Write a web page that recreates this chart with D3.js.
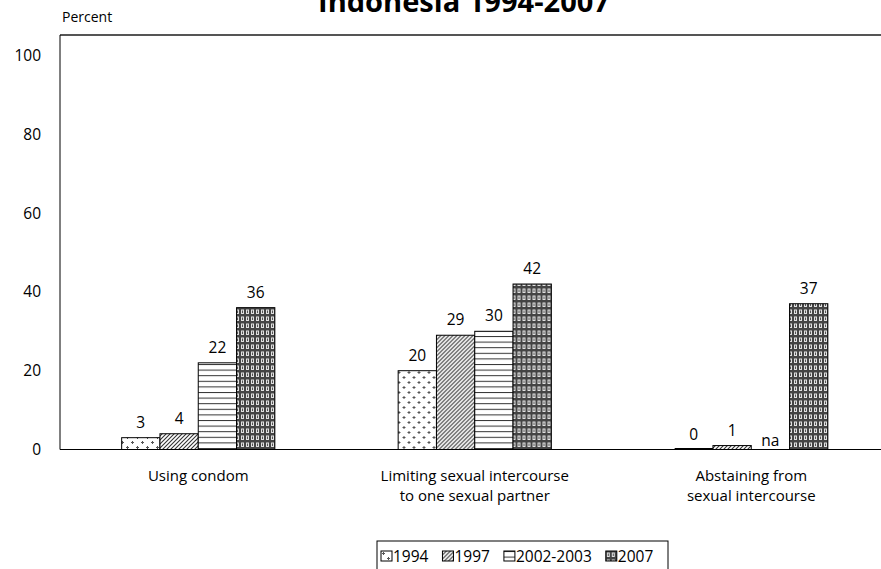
<!DOCTYPE html>
<html>
<head>
<meta charset="utf-8">
<script src="https://cdn.jsdelivr.net/npm/d3@7/dist/d3.min.js"></script>
<style>
  html, body { margin: 0; padding: 0; background: #fff; }
  svg { display: block; font-family: "Open Sans", Lato, sans-serif; }
</style>
</head>
<body>
<svg id="chart" width="881" height="569"></svg>
<script>
// Knowledge of ways to avoid HIV, Indonesia 1994-2007
const categories = [
  ["Using condom"],
  ["Limiting sexual intercourse", "to one sexual partner"],
  ["Abstaining from", "sexual intercourse"]
];
const seriesNames = ["1994", "1997", "2002-2003", "2007"];
const v1994 = [3, 20, 0];
const v1997 = [4, 29, 1];
const v2002 = [22, 30, null];   // null = not available
const v2007 = [36, 42, 37];
const yTicks = [0, 20, 40, 60, 80, 100];
const title = "Indonesia 1994-2007";
const yLabel = "Percent";

const seriesValues = [v1994, v1997, v2002, v2007];
const FS = 15.5;

const svg = d3.select("#chart");
const defs = svg.append("defs");

// ---- fill patterns, one per series ----
// 1994: scattered small crosses
const p0 = defs.append("pattern").attr("id", "pat0").attr("patternUnits", "userSpaceOnUse")
  .attr("width", 10).attr("height", 10);
p0.append("rect").attr("width", 10).attr("height", 10).attr("fill", "#fff");
[[2.5, 2.5], [7.5, 7.5]].forEach(([cx, cy]) => {
  p0.append("path").attr("d", `M${cx-1.5},${cy}h3M${cx},${cy-1.5}v3`)
    .attr("stroke", "#555").attr("stroke-width", 1);
});
// 1997: diagonal hatching
const p1 = defs.append("pattern").attr("id", "pat1").attr("patternUnits", "userSpaceOnUse")
  .attr("width", 4).attr("height", 4);
p1.append("rect").attr("width", 4).attr("height", 4).attr("fill", "#fff");
p1.append("path").attr("d", "M-1,5L5,-1M-1,1L1,-1M3,5L5,3")
  .attr("stroke", "#333").attr("stroke-width", 1.1);
// 2002-2003: horizontal rules
const p2 = defs.append("pattern").attr("id", "pat2").attr("patternUnits", "userSpaceOnUse")
  .attr("width", 8).attr("height", 5.6);
p2.append("rect").attr("width", 8).attr("height", 5.6).attr("fill", "#fff");
p2.append("rect").attr("y", 0).attr("width", 8).attr("height", 1).attr("fill", "#333");
// 2007: dense ring texture
const p3 = defs.append("pattern").attr("id", "pat3").attr("patternUnits", "userSpaceOnUse")
  .attr("width", 5).attr("height", 7);
p3.append("rect").attr("width", 5).attr("height", 7).attr("fill", "#444");
p3.append("rect").attr("x", 1).attr("y", 1.5).attr("width", 3).attr("height", 4.5).attr("fill", "#e0e0e0");
p3.append("rect").attr("x", 2).attr("y", 2.5).attr("width", 1).attr("height", 2.5).attr("fill", "#555");
const fills = ["url(#pat0)", "url(#pat1)", "url(#pat2)", "url(#pat3)"];

// ---- scales ----
const plot = { left: 60, top: 35, right: 889.5, bottom: 449.5 };
const y = d3.scaleLinear().domain([0, 100]).range([plot.bottom, 55.5]);
const x0 = d3.scaleBand().domain(d3.range(categories.length))
  .range([plot.left, plot.right]).padding(0);
const x1 = d3.scaleBand().domain(d3.range(seriesNames.length))
  .range([0, x0.bandwidth()]).paddingInner(0).paddingOuter(1.61);

// ---- title (top runs past the page edge) and axis caption ----
const tt = svg.append("text").attr("x", 464).attr("y", 12).attr("text-anchor", "middle")
  .attr("font-size", 22).attr("font-weight", "bold").attr("fill", "#000").text(title);
const tw = tt.node().getComputedTextLength();
tt.attr("font-size", 22 * 292 / tw);
svg.append("text").attr("x", 62).attr("y", 22).attr("font-size", 14).attr("fill", "#000").text(yLabel);

// ---- plot frame ----
svg.append("line").attr("x1", plot.left).attr("x2", 881).attr("y1", plot.top).attr("y2", plot.top)
  .attr("stroke", "#555").attr("stroke-width", 2);
svg.append("line").attr("x1", plot.left).attr("x2", plot.left).attr("y1", plot.top).attr("y2", plot.bottom)
  .attr("stroke", "#000").attr("stroke-width", 1);

// ---- y axis labels ----
const yAxis = d3.axisLeft(y).tickValues(yTicks).tickSize(0).tickPadding(19);
svg.append("g").attr("transform", `translate(${plot.left},0)`).call(yAxis)
  .call(g => g.select(".domain").remove())
  .call(g => g.selectAll("text").attr("font-size", FS)
    .attr("font-family", "'Open Sans', Lato, sans-serif").attr("fill", "#000"));

// ---- bars ----
const groups = svg.append("g").selectAll("g").data(categories).join("g")
  .attr("transform", (d, i) => `translate(${x0(i)},0)`);

groups.each(function(cat, ci) {
  const g = d3.select(this);
  seriesNames.forEach((s, si) => {
    const v = seriesValues[si][ci];
    const bx = x1(si), bw = x1.bandwidth();
    if (v === null) {
      g.append("text").attr("x", bx + bw / 2).attr("y", plot.bottom - 4)
        .attr("text-anchor", "middle").attr("font-size", FS).attr("fill", "#000").text("na");
      return;
    }
    if (v === 0) {
      g.append("line").attr("x1", bx).attr("x2", bx + bw)
        .attr("y1", y(0) - 0.5).attr("y2", y(0) - 0.5)
        .attr("stroke", "#000").attr("stroke-width", 2);
    } else {
      g.append("rect").attr("x", bx).attr("y", y(v)).attr("width", bw).attr("height", y(0) - y(v))
        .attr("fill", fills[si]).attr("stroke", "#000").attr("stroke-width", 1);
    }
    g.append("text").attr("x", bx + bw / 2).attr("y", y(v) - 10)
      .attr("text-anchor", "middle").attr("font-size", FS).attr("fill", "#000").text(v);
  });
});

// ---- baseline ----
svg.append("line").attr("x1", plot.left).attr("x2", 881).attr("y1", plot.bottom).attr("y2", plot.bottom)
  .attr("stroke", "#000").attr("stroke-width", 1.2);

// ---- category labels (one text per line) ----
groups.each(function(cat) {
  const g = d3.select(this);
  cat.forEach((line, li) => {
    g.append("text").attr("text-anchor", "middle").attr("font-size", 15).attr("fill", "#000")
      .attr("x", x0.bandwidth() / 2).attr("y", 481 + li * 20).text(line);
  });
});

// ---- legend ----
const legend = svg.append("g").attr("transform", "translate(377,541)");
legend.append("rect").attr("x", 0).attr("y", 0).attr("width", 291).attr("height", 40)
  .attr("fill", "#fff").attr("stroke", "#000").attr("stroke-width", 1);
let lx = 4;
seriesNames.forEach((s, i) => {
  const it = legend.append("g").attr("transform", `translate(${lx},10)`);
  it.append("rect").attr("width", 11).attr("height", 10)
    .attr("fill", fills[i]).attr("stroke", "#000").attr("stroke-width", 1);
  const t = it.append("text").attr("x", 12).attr("y", 10.5).attr("font-size", FS)
    .attr("fill", "#000").text(s);
  lx += 12 + t.node().getComputedTextLength() + 14;
});
</script>
</body>
</html>
